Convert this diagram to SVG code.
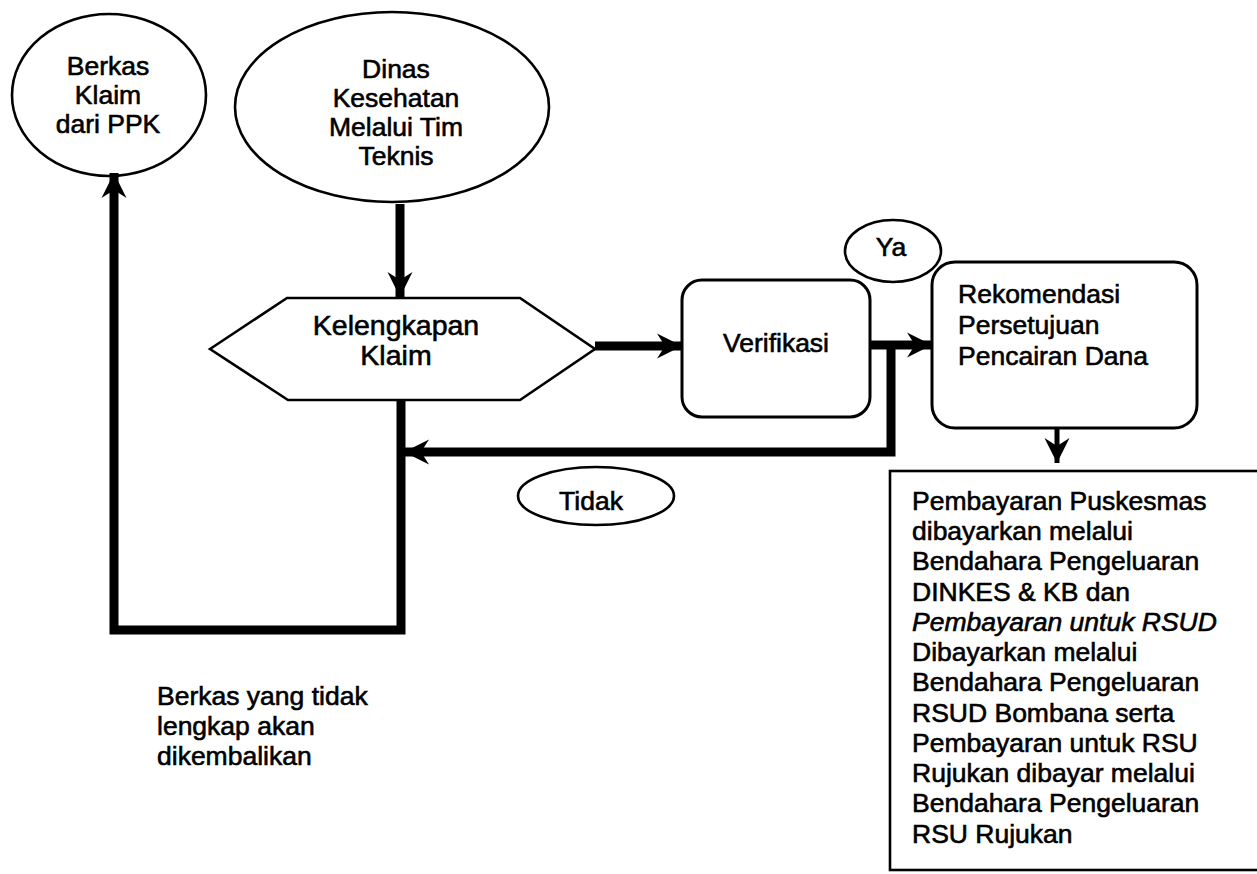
<svg xmlns="http://www.w3.org/2000/svg" width="1257" height="874" viewBox="0 0 1257 874">
<style>
.bg{fill:#fff}
.shape{fill:none;stroke:#000;stroke-width:2.6}
.box{fill:none;stroke:#000;stroke-width:3}
.t{font-family:"Liberation Sans",Arial,sans-serif;font-size:26.5px;fill:#000;stroke:#000;stroke-width:0.6}
.c{text-anchor:middle}
.big{font-size:28.5px}
.conn{fill:none;stroke:#000;stroke-width:9;stroke-linejoin:miter;stroke-linecap:butt}
.thin{fill:none;stroke:#000;stroke-width:5}
</style>
<defs>
<marker id="ah" viewBox="-26 -13 28 26" refX="0" refY="0" markerWidth="28" markerHeight="26" markerUnits="userSpaceOnUse" orient="auto">
<path d="M0,0 L-25,-12.5 L-17,0 L-25,12.5 Z" fill="#000"/>
</marker>
</defs>
<rect class="bg" x="0" y="0" width="1257" height="874"/>

<g id="connectors">
<line class="conn" x1="400" y1="204" x2="400" y2="297" marker-end="url(#ah)"/>
<line class="conn" x1="595" y1="346" x2="682" y2="346" marker-end="url(#ah)"/>
<line class="conn" x1="870" y1="345" x2="932" y2="345" marker-end="url(#ah)"/>
<polyline class="conn" points="891,341 891,452 404,452" marker-end="url(#ah)"/>
<polyline class="conn" points="401,400 401,630 114,630 114,173" marker-end="url(#ah)"/>
<line class="thin" x1="1057" y1="428" x2="1057" y2="463" marker-end="url(#ah)"/>
</g>

<g id="berkas-klaim">
<ellipse class="shape" cx="109" cy="95" rx="97" ry="81"/>
<text class="t c" x="108" y="75">Berkas</text>
<text class="t c" x="108" y="104">Klaim</text>
<text class="t c" x="108" y="133">dari PPK</text>
</g>

<g id="dinas">
<ellipse class="shape" cx="392" cy="107" rx="157" ry="95"/>
<text class="t c" x="396" y="78">Dinas</text>
<text class="t c" x="396" y="107">Kesehatan</text>
<text class="t c" x="396" y="136">Melalui Tim</text>
<text class="t c" x="396" y="165">Teknis</text>
</g>

<g id="kelengkapan">
<polygon class="shape" points="210,349 287,298 520,298 595,349 520,400 288,400"/>
<text class="t c big" x="396" y="335">Kelengkapan</text>
<text class="t c big" x="396" y="365">Klaim</text>
</g>

<g id="verifikasi">
<rect class="box" x="682" y="280" width="188" height="137" rx="20" ry="20"/>
<text class="t c" x="776" y="352">Verifikasi</text>
</g>

<g id="ya">
<ellipse class="shape" cx="893" cy="251" rx="48" ry="31"/>
<text class="t c" x="891" y="256">Ya</text>
</g>

<g id="rekomendasi">
<rect class="box" x="932" y="262" width="265" height="166" rx="23" ry="23"/>
<text class="t" x="958" y="303">Rekomendasi</text>
<text class="t" x="958" y="334">Persetujuan</text>
<text class="t" x="958" y="365">Pencairan Dana</text>
</g>

<g id="tidak">
<ellipse class="shape" cx="596" cy="496" rx="78" ry="29"/>
<text class="t c" x="591" y="510">Tidak</text>
</g>

<g id="pembayaran">
<rect class="shape" x="890" y="471" width="380" height="399"/>
<text class="t" x="912" y="510">Pembayaran Puskesmas</text>
<text class="t" x="912" y="540">dibayarkan melalui</text>
<text class="t" x="912" y="570">Bendahara Pengeluaran</text>
<text class="t" x="912" y="601">DINKES &amp; KB dan</text>
<text class="t" x="912" y="631" font-style="italic">Pembayaran untuk RSUD</text>
<text class="t" x="912" y="661">Dibayarkan melalui</text>
<text class="t" x="912" y="691">Bendahara Pengeluaran</text>
<text class="t" x="912" y="722">RSUD Bombana serta</text>
<text class="t" x="912" y="752">Pembayaran untuk RSU</text>
<text class="t" x="912" y="782">Rujukan dibayar melalui</text>
<text class="t" x="912" y="812">Bendahara Pengeluaran</text>
<text class="t" x="912" y="843">RSU Rujukan</text>
</g>

<g id="catatan">
<text class="t" x="157" y="705">Berkas yang tidak</text>
<text class="t" x="157" y="735">lengkap akan</text>
<text class="t" x="157" y="765">dikembalikan</text>
</g>
</svg>
